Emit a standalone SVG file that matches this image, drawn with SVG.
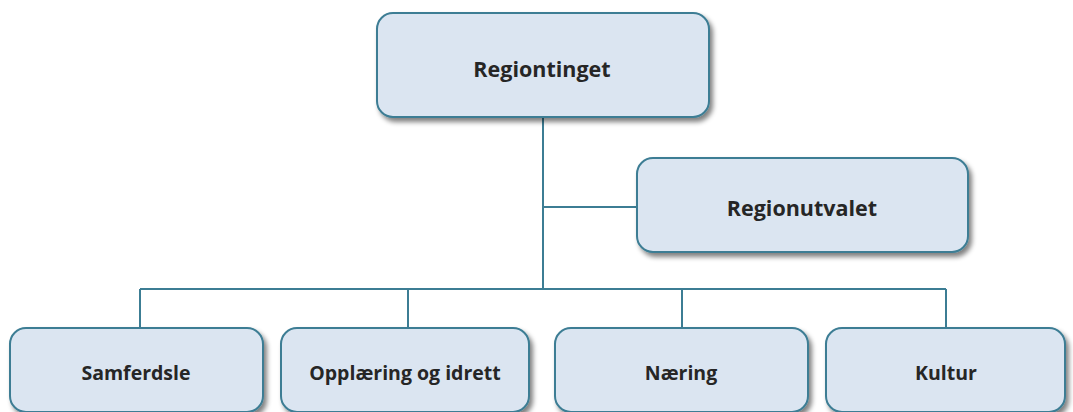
<svg xmlns="http://www.w3.org/2000/svg" width="1073" height="412" viewBox="0 0 1073 412">
<defs>
<filter id="sh" x="-10%" y="-10%" width="130%" height="140%">
<feGaussianBlur in="SourceAlpha" stdDeviation="2.5"/>
<feOffset dx="3" dy="4" result="b"/>
<feComponentTransfer><feFuncA type="linear" slope="0.5"/></feComponentTransfer>
<feMerge><feMergeNode/><feMergeNode in="SourceGraphic"/></feMerge>
</filter>
</defs>
<style>
.box{fill:#dbe5f1;stroke:#3c7d94;stroke-width:2;filter:url(#sh)}
.t{font-family:"Open Sans","Liberation Sans",sans-serif;font-weight:bold;fill:#262626;text-anchor:middle;dominant-baseline:central}
.big{font-size:21.5px}
.sm{font-size:19.5px}
.con{fill:none;stroke:#3c7d94;stroke-width:2}
</style>
<rect width="1073" height="412" fill="#ffffff"/>
<g id="connectors">
<path class="con" d="M543 117 V289"/>
<path class="con" d="M543 207 H637"/>
<path class="con" d="M140 289 H946"/>
<path class="con" d="M140 289 V328"/>
<path class="con" d="M408 289 V328"/>
<path class="con" d="M682 289 V328"/>
<path class="con" d="M946 289 V328"/>
</g>
<g id="regiontinget">
<rect class="box" x="377" y="13" width="332" height="104" rx="16"/>
<text class="t big" x="542" y="68">Regiontinget</text>
</g>
<g id="regionutvalet">
<rect class="box" x="637" y="158" width="331" height="94" rx="16"/>
<text class="t big" x="802" y="207">Regionutvalet</text>
</g>
<g id="samferdsle">
<rect class="box" x="10" y="328" width="253" height="84" rx="16"/>
<text class="t sm" x="136" y="372">Samferdsle</text>
</g>
<g id="opplaering">
<rect class="box" x="281" y="328" width="248" height="84" rx="16"/>
<text class="t sm" x="405" y="372">Opplæring og idrett</text>
</g>
<g id="naering">
<rect class="box" x="555" y="328" width="253" height="84" rx="16"/>
<text class="t sm" x="681" y="372">Næring</text>
</g>
<g id="kultur">
<rect class="box" x="826" y="328" width="239" height="84" rx="16"/>
<text class="t sm" x="946" y="372">Kultur</text>
</g>
</svg>
